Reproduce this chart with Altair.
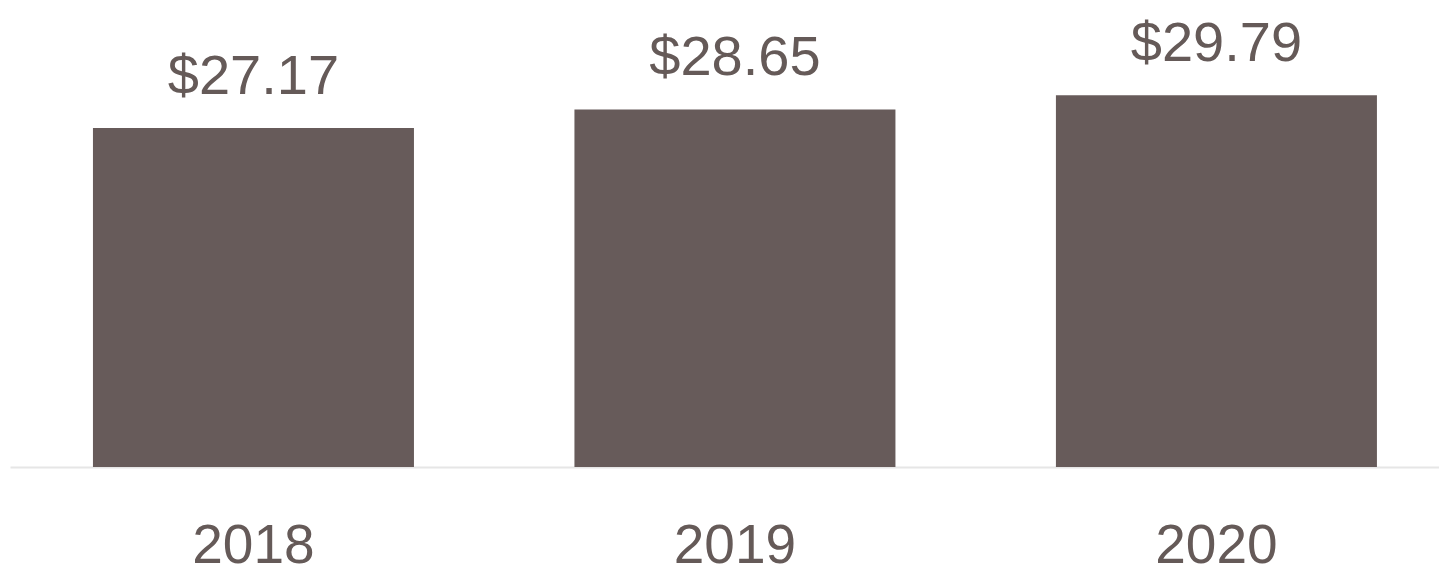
import altair as alt
import pandas as pd

years = ["2018", "2019", "2020"]
values = [27.17, 28.65, 29.79]
labels = ["$27.17", "$28.65", "$29.79"]

df = pd.DataFrame({"year": years, "value": values, "label": labels})

FONT = "Liberation Sans Narrow, Arial Narrow, Liberation Sans, Arial, sans-serif"
TEXT_COLOR = "#655a58"
BAR_COLOR = "#675b5a"

x = alt.X(
    "year:N",
    sort=years,
    title=None,
    scale=alt.Scale(paddingInner=0.3333, paddingOuter=0.1506, align=0.572),
    axis=alt.Axis(
        labelAngle=0,
        ticks=False,
        domain=True,
        domainColor="#e6e6e6",
        domainWidth=2,
        labelFont=FONT,
        labelFontSize=55,
        labelColor=TEXT_COLOR,
        labelBaseline="alphabetic",
        labelPadding=95,
        grid=False,
    ),
)
y = alt.Y(
    "value:Q",
    scale=alt.Scale(domain=[0, 36.78], nice=False, zero=True),
    axis=None,
)

bars = alt.Chart(df).mark_bar(color=BAR_COLOR).encode(x=x, y=y)
text = alt.Chart(df).mark_text(
    font=FONT, fontSize=56, color=TEXT_COLOR, baseline="alphabetic", dy=-34
).encode(x=alt.X("year:N", sort=years), y=y, text="label:N")

chart = (
    alt.layer(bars, text)
    .properties(
        width=1429,
        height=459,
        padding={"left": 2, "top": 0, "right": 0, "bottom": 107},
        autosize=alt.AutoSizeParams(type="none"),
    )
    .configure_view(stroke=None)
)

chart.save("out.html", embed_options={"renderer": "svg", "actions": False})
